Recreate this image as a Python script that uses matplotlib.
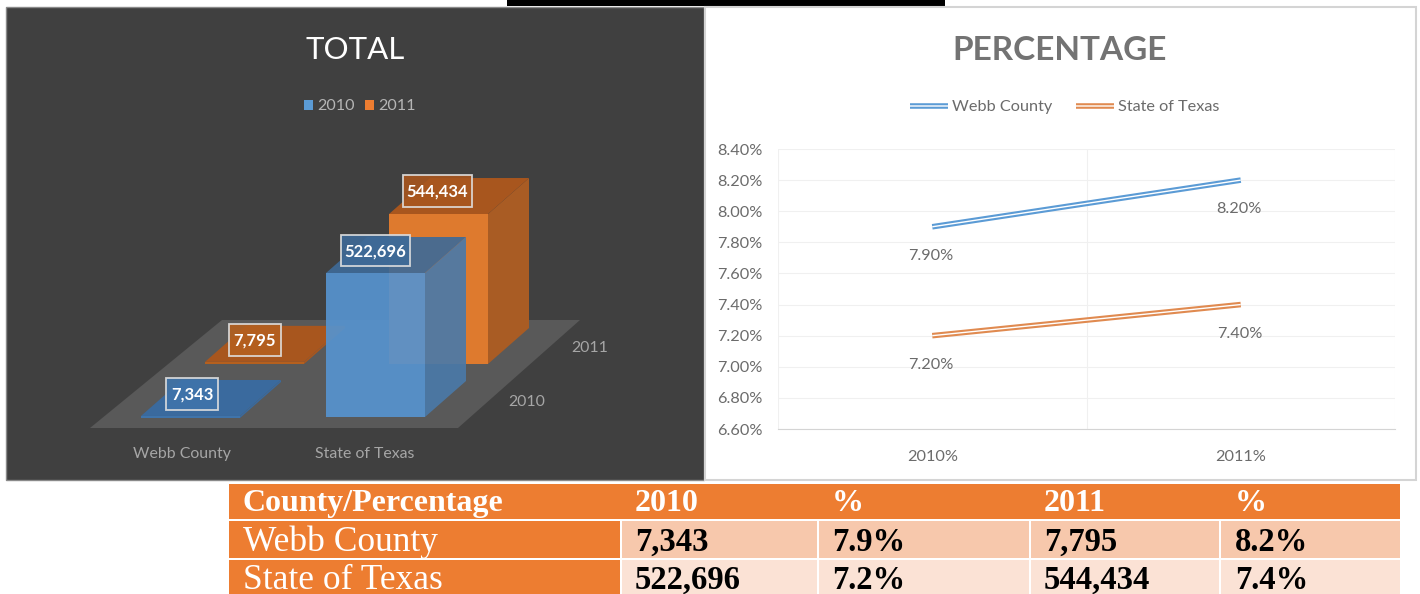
import matplotlib
matplotlib.use('Agg')
import matplotlib.pyplot as plt
from matplotlib.patches import Rectangle, Polygon
from matplotlib.lines import Line2D

plt.rcParams['font.family'] = ['Lato', 'DejaVu Sans']

# datos
regiones = ['Webb County', 'State of Texas']
anios = ['2010', '2011']
total_2010 = [7343, 522696]
total_2011 = [7795, 544434]
etiquetas_2010 = ['7,343', '522,696']
etiquetas_2011 = ['7,795', '544,434']

categorias_pct = ['2010%', '2011%']
pct_webb = [7.9, 8.2]
pct_texas = [7.2, 7.4]
ticks_pct = [6.6, 6.8, 7.0, 7.2, 7.4, 7.6, 7.8, 8.0, 8.2, 8.4]

cabecera = ['County/Percentage', '2010', '%', '2011', '%']
fila_webb = ['Webb County', '7,343', '7.9%', '7,795', '8.2%']
fila_texas = ['State of Texas', '522,696', '7.2%', '544,434', '7.4%']

NARANJA = '#ED7D31'
AZUL = '#5B9BD5'
GRIS_TEXTO = '#6b6b6b'
W, H = 1420, 594

fig = plt.figure(figsize=(W / 100, H / 100), dpi=100, facecolor='white')
ax = fig.add_axes([0, 0, 1, 1])
ax.set_xlim(0, W)
ax.set_ylim(H, 0)
ax.axis('off')

# paneles de fondo
ax.add_patch(Rectangle((507, 0), 438, 6, fc='black', ec='none'))
ax.add_patch(Rectangle((6, 7), 698, 473, fc='#404040', ec='#8a8a8a', lw=1))
ax.add_patch(Rectangle((705, 7), 711, 473, fc='white', ec='#d4d4d4', lw=1.5))

# panel izquierdo: barras 3D
ax.text(355, 50, 'TOTAL', color='white', fontsize=22.5, ha='center', va='center')
ax.add_patch(Rectangle((304, 100), 9, 10, fc=AZUL, ec='none'))
ax.add_patch(Rectangle((365, 100), 9, 10, fc=NARANJA, ec='none'))
ax.text(317, 106, anios[0], color='#b5b5b5', fontsize=11.6, va='center')
ax.text(378, 106, anios[1], color='#b5b5b5', fontsize=11.6, va='center')

ax.add_patch(Polygon([(90, 428), (458, 428), (580, 320), (222, 320)],
                     fc='#595959', ec='none', zorder=1))

escala = 144 / 522696  # pixeles por unidad
ANCHO = 99
DX, DY = 41, -36


def caja(x, base, valor, frente, lado, arriba, alfa, z):
    alto = valor * escala
    y = base - alto
    ax.add_patch(Polygon([(x + ANCHO, base), (x + ANCHO + DX, base + DY),
                          (x + ANCHO + DX, y + DY), (x + ANCHO, y)],
                         fc=lado, ec='none', alpha=alfa, zorder=z))
    ax.add_patch(Polygon([(x, y), (x + ANCHO, y), (x + ANCHO + DX, y + DY), (x + DX, y + DY)],
                         fc=arriba, ec='none', alpha=alfa, zorder=z))
    ax.add_patch(Rectangle((x, y), ANCHO, alto, fc=frente, ec='none', alpha=alfa, zorder=z))


def etiqueta(x, y, w, h, texto, fondo):
    ax.add_patch(Rectangle((x, y), w, h, fc=fondo, ec='#e0e0e0', lw=1.3, alpha=0.9, zorder=6))
    ax.text(x + w / 2, y + h / 2 + 1, texto, color='white', fontsize=12, fontweight='bold',
            ha='center', va='center', zorder=7)


caja(205, 364, total_2011[0], '#B5601F', '#A8561E', '#A8561E', 1, 2)
caja(141, 418, total_2010[0], '#3F74AB', '#3A6A9E', '#3A6A9E', 1, 2)
caja(389, 364, total_2011[1], '#DE7A2E', '#A95C24', '#A8561E', 1, 3)
caja(326, 417, total_2010[1], '#5693CF', '#4A79A8', '#3E6A97', 0.92, 4)

etiqueta(229, 324, 52, 32, etiquetas_2011[0], '#B5601F')
etiqueta(166, 378, 52, 32, etiquetas_2010[0], '#3F74AB')
etiqueta(403, 175, 69, 32, etiquetas_2011[1], '#A8561E')
etiqueta(341, 235, 69, 31, etiquetas_2010[1], '#3E6A97')

ax.text(182, 454, regiones[0], color='#a6a6a6', fontsize=11.4, ha='center', va='center')
ax.text(365, 454, regiones[1], color='#a6a6a6', fontsize=11.4, ha='center', va='center')
ax.text(590, 348, anios[1], color='#a6a6a6', fontsize=11.4, ha='center', va='center')
ax.text(527, 402, anios[0], color='#a6a6a6', fontsize=11.4, ha='center', va='center')

# panel derecho: lineas
axl = fig.add_axes([778 / W, 1 - 429 / H, (1395 - 778) / W, (429 - 149) / H])
axl.set_xlim(-0.5, 1.5)
axl.set_ylim(6.6, 8.4)
axl.patch.set_alpha(0)
axl.set_yticks(ticks_pct)
axl.set_yticklabels(['%.2f%%' % t for t in ticks_pct])
axl.set_xticks([0, 1])
axl.set_xticklabels(categorias_pct)
axl.tick_params(length=0, labelsize=11.7, labelcolor=GRIS_TEXTO)
axl.tick_params(axis='y', pad=11)
axl.tick_params(axis='x', pad=15)
for t in [-0.5, 0.5, 1.5]:
    axl.axvline(t, color='#f0f0f0', lw=0.8, zorder=0)
for t in ticks_pct:
    axl.axhline(t, color='#f0f0f0', lw=0.8, zorder=0)
for lado in ['top', 'left', 'right']:
    axl.spines[lado].set_visible(False)
axl.spines['bottom'].set_color('#d4d4d4')

for serie, color in [(pct_webb, AZUL), (pct_texas, '#E08A50')]:
    axl.plot([0, 1], serie, color=color, lw=4, solid_capstyle='butt', zorder=3)
    axl.plot([0, 1], serie, color='white', lw=1, solid_capstyle='butt', zorder=4)

axl.annotate('%.2f%%' % pct_webb[0], (0, pct_webb[0]), xytext=(-1, -21), textcoords='offset points',
             ha='center', va='center', fontsize=11.7, color=GRIS_TEXTO)
axl.annotate('%.2f%%' % pct_webb[1], (1, pct_webb[1]), xytext=(-1, -20.5), textcoords='offset points',
             ha='center', va='center', fontsize=11.7, color=GRIS_TEXTO)
axl.annotate('%.2f%%' % pct_texas[0], (0, pct_texas[0]), xytext=(-1, -21), textcoords='offset points',
             ha='center', va='center', fontsize=11.7, color=GRIS_TEXTO)
axl.annotate('%.2f%%' % pct_texas[1], (1, pct_texas[1]), xytext=(-1, -21), textcoords='offset points',
             ha='center', va='center', fontsize=11.7, color=GRIS_TEXTO)

ax.text(1060, 51, 'PERCENTAGE', color='#737373', fontsize=24, fontweight='bold', ha='center',
        va='center')
for x0, color, nombre, xt in [(910, AZUL, 'Webb County', 952), (1076, '#E08A50', 'State of Texas', 1118)]:
    for ancho_linea, c in [(4, color), (1, 'white')]:
        linea = Line2D([x0, x0 + 38], [106, 106], color=c, lw=ancho_linea, solid_capstyle='butt')
        linea.set_snap(False)
        ax.add_line(linea)
    ax.text(xt, 107, nombre, color=GRIS_TEXTO, fontsize=11.7, va='center')

# tabla de abajo
col_x = [229, 622, 819, 1031, 1221]
col_ancho = [391, 195, 210, 188, 179]
fila_y = [484, 521, 560]
fila_alto = [35, 37, 34]
texto_x = [243, 635, 832, 1044, 1235]
fondos = [None, '#F7C8AC', '#FBE2D5']
base_y = [511, 551, 589]

ax.add_patch(Rectangle((col_x[0], fila_y[0]), 1171, fila_alto[0], fc=NARANJA, ec='none'))
for i, fila in enumerate([cabecera, fila_webb, fila_texas]):
    for j, texto in enumerate(fila):
        if i > 0:
            ax.add_patch(Rectangle((col_x[j], fila_y[i]), col_ancho[j], fila_alto[i],
                                   fc=NARANJA if j == 0 else fondos[i], ec='none'))
        if i == 0:
            color, peso, tam = 'white', 'bold', 23
        elif j == 0:
            color, peso, tam = 'white', 'normal', 25.5
        else:
            color, peso, tam = 'black', 'bold', 23.5
        ax.text(texto_x[j], base_y[i], texto, color=color, fontweight=peso, fontsize=tam,
                family='Liberation Serif', ha='left', va='baseline', zorder=5)

fig.savefig('out.png', dpi=100)
